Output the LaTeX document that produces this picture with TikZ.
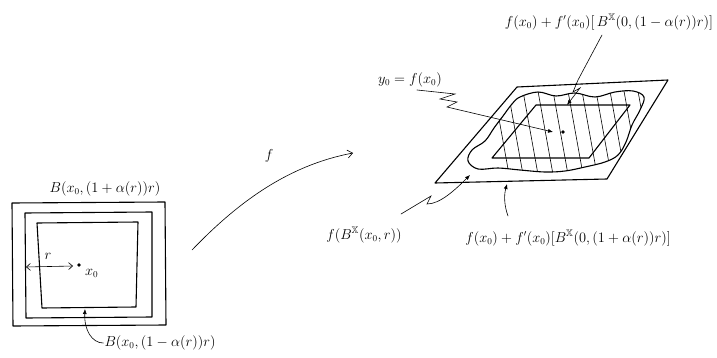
\documentclass[tikz,border=0pt]{standalone}
\usepackage{amssymb}
\usetikzlibrary{arrows.meta}
\begin{document}
\begin{tikzpicture}[x=1pt,y=-1pt,
  thick line/.style={line width=1.1pt, line join=round},
  thin line/.style={line width=0.6pt, line cap=round},
  lbl/.style={inner sep=1pt, font=\fontsize{13.5}{16}\selectfont},
  pointer/.style={thin line, -{Latex[length=5pt,width=4pt]}},
  openarrow/.style={thin line, -{Straight Barb[length=5pt,width=8pt]}}]
\useasboundingbox (0,0) rectangle (717,358);
% left boxes
\draw[thick line] (12,203) -- (165,202) -- (166,325) -- (13,326) -- cycle;
\draw[thick line] (25,213) -- (152,212) -- (152,317) -- (26,318) -- cycle;
\draw[thick line] (37,223) -- (138,222) -- (136,307) -- (42,308) -- cycle;
\node[lbl] (outerlbl) at (105,189) {$B(x_0,(1+\alpha(r))r)$};
\node[lbl] (innerlbl) at (160,343) {$B(x_0,(1-\alpha(r))r)$};
\fill (79,265) circle (1.8pt) coordinate (xz);
\node[lbl, anchor=west] (xzlbl) at (84,273) {$x_0$};
\coordinate (rl) at (26,267);
\coordinate (rr) at (73,266);
\draw[thin line, {Straight Barb[length=4pt,width=7pt]}-{Straight Barb[length=4pt,width=7pt]}] (rl) -- (rr);
\node[lbl] (rlbl) at (48,256) {$r$};
\coordinate (innerbot) at (85,309);
\draw[pointer] (innerlbl.west) .. controls (92,343) and (84,330) .. (innerbot);
% map f
\coordinate (fs) at (192,250);
\coordinate (fe) at (353,153);
\draw[openarrow] (fs) .. controls (240,200) and (290,165) .. (fe);
\node[lbl] (flbl) at (269,156) {$f$};
% right: outer plane
\draw[thick line] (517,87) -- (668,80) -- (607,179) -- (435,183) -- cycle;
% blob
\def\blob{plot[smooth cycle, tension=0.6] coordinates {(520,97) (538,92) (556,96) (575,93) (595,97) (615,92) (633,91) (644,97) (640,110) (632,125) (626,142) (618,155) (605,162) (585,167) (565,171) (545,172) (520,170) (498,168) (478,169) (468,161) (472,150) (485,141) (494,128) (503,116) (512,104)}}
\begin{scope}
\clip \blob;
\foreach \x in {492,506,521,536,551,566,580,594,608,622,636} {
  \draw[thin line] (\x,80) -- (\x+18,180);
}
\end{scope}
\draw[thick line] \blob;
% inner parallelogram
\draw[thick line] (536,105) -- (630,105) -- (589,158) -- (492,158) -- cycle;
% y0 point
\fill (563,132) circle (1.8pt) coordinate (yz);
\coordinate (ytip) at (553,132);
\node[lbl] (ylbl) at (410,80) {$y_0=f(x_0)$};
\draw[pointer] (417,90) -- (455,94) -- (440,99) -- (457,102) -- (447,107) -- (ytip);
% top label
\node[lbl] (toplbl) at (609,22) {$f(x_0)+f'(x_0)[\,B^{\mathbb{X}}(0,(1-\alpha(r))r)]$};
\coordinate (toptip) at (567,105);
\draw[pointer] (602,35) -- (578,80) -- (573,92) -- (580,88) -- (toptip);
% bottom label
\node[lbl] (botlbl) at (568,238) {$f(x_0)+f'(x_0)[B^{\mathbb{X}}(0,(1+\alpha(r))r)]$};
\coordinate (bottip) at (507,184);
\draw[pointer] (508,216) .. controls (504,205) and (504,195) .. (bottip);
% left-bottom label
\node[lbl] (fblbl) at (364,235) {$f(B^{\mathbb{X}}(x_0,r))$};
\coordinate (fbtip) at (470,175);
\draw[pointer] (401,214) -- (431,196) -- (427,204) .. controls (440,204) and (455,190) .. (fbtip);
\end{tikzpicture}
\end{document}
